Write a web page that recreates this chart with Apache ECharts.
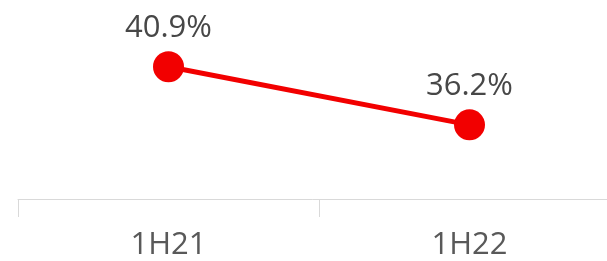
<!DOCTYPE html>
<html>
<head>
<meta charset="utf-8">
<script src="https://cdn.jsdelivr.net/npm/echarts@6/dist/echarts.min.js"></script>
<style>
  html, body { margin: 0; padding: 0; background: #fff; }
  #chart { width: 607px; height: 261px; }
</style>
</head>
<body>
<div id="chart"></div>
<script>
// chart data
const categories = ["1H21", "1H22"];
const shareValues = [40.9, 36.2];

const chart = echarts.init(document.getElementById("chart"));
chart.setOption({
  animation: false,
  grid: {
    left: 18, width: 602, top: 0, bottom: 62,
    outerBoundsMode: "none",
    containLabel: false
  },
  xAxis: {
    type: "category",
    data: categories,
    boundaryGap: true,
    axisLine: { lineStyle: { color: "#d9d9d9", width: 1 } },
    axisTick: { show: true, length: 18, lineStyle: { color: "#d9d9d9" } },
    axisLabel: {
      color: "#595959",
      fontSize: 31,
      fontFamily: "Open Sans",
      margin: 31
    }
  },
  yAxis: {
    type: "value",
    min: 30.2,
    max: 46.3,
    show: false,
    splitLine: { show: false }
  },
  series: [
    {
      type: "line",
      data: shareValues,
      symbol: "circle",
      symbolSize: 31,
      lineStyle: { color: "#f20000", width: 5 },
      itemStyle: { color: "#f20000" },
      label: {
        show: true,
        position: "top",
        distance: 8,
        color: "#474747",
        fontSize: 31,
        fontFamily: "Open Sans",
        formatter: p => p.value.toFixed(1) + "%"
      }
    }
  ]
});
</script>
</body>
</html>
